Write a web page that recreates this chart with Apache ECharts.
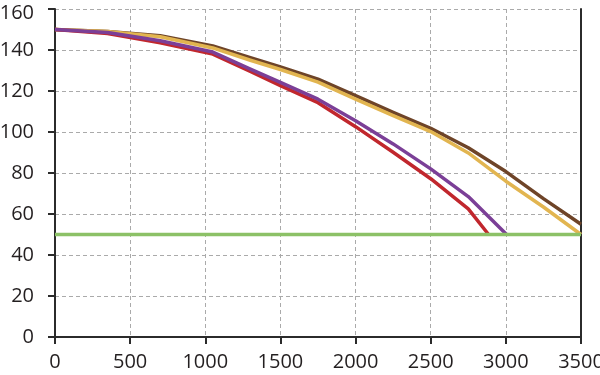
<!DOCTYPE html>
<html>
<head>
<meta charset="utf-8">
<script src="https://cdn.jsdelivr.net/npm/echarts@6/dist/echarts.min.js"></script>
<style>html,body{margin:0;padding:0;background:#fff}#c{width:600px;height:375px}</style>
</head>
<body>
<div id="c"></div>
<script>
const xTicks = [0, 500, 1000, 1500, 2000, 2500, 3000, 3500];
const yTicks = [0, 20, 40, 60, 80, 100, 120, 140, 160];

const xBrown = [0, 350, 700, 1050, 1300, 1500, 1750, 2000, 2250, 2500, 2750, 3000, 3250, 3500];
const brown  = [150, 149, 147, 142, 136.3, 131.8, 125.8, 117.7, 109.6, 101.8, 92.3, 80.7, 67.5, 55];
const xGold  = [0, 350, 700, 1050, 1300, 1500, 1750, 2000, 2250, 2500, 2750, 3000, 3250, 3500];
const gold   = [150, 149, 146.5, 141, 135, 130.5, 124.3, 116, 108, 100.2, 89.8, 76, 63.4, 50];
const xPurple = [0, 350, 700, 1050, 1300, 1500, 1750, 2000, 2250, 2500, 2750, 3005];
const purple  = [150, 148.5, 144.5, 139, 130.7, 124.2, 116, 105.5, 94.2, 82, 68.5, 50];
const xRed = [0, 350, 700, 1050, 1300, 1500, 1750, 2000, 2250, 2500, 2750, 2885];
const red  = [150, 148, 143.5, 138, 129.5, 122.6, 114.3, 102.6, 90.1, 77.2, 62.5, 50];
const xGreen = [0, 3500];
const green  = [50, 50];

const pairs = (xs, ys) => xs.map((x, i) => [x, ys[i]]);
const FONT = '"Open Sans", "Noto Sans", sans-serif';
const TXT = '#231f20';

const chart = echarts.init(document.getElementById('c'), null, {renderer: 'canvas'});
const line = (name, xs, ys, color, z) => ({
  name, type: 'line', data: pairs(xs, ys), showSymbol: false, symbol: 'none',
  lineStyle: {color, width: 3.5, join: 'round', cap: 'butt'}, itemStyle: {color}, z, animation: false, silent: true
});
chart.setOption({
  animation: false,
  grid: {left: 55, right: 19, top: 9, bottom: 38, containLabel: false, outerBoundsMode: 'none'},
  xAxis: {
    type: 'value', min: xTicks[0], max: xTicks[xTicks.length - 1], interval: 500,
    axisLine: {show: true, onZero: false, lineStyle: {color: '#2b2b2b', width: 2}},
    axisTick: {show: true, length: 7, lineStyle: {color: '#2b2b2b', width: 2}},
    axisLabel: {color: TXT, fontFamily: FONT, fontSize: 20, margin: 15, formatter: v => String(v)},
    splitLine: {show: true, lineStyle: {color: '#aaaaaa', width: 1, type: [4, 3]}}
  },
  yAxis: [{
    type: 'value', min: yTicks[0], max: yTicks[yTicks.length - 1], interval: 20,
    axisLine: {show: true, lineStyle: {color: '#2b2b2b', width: 2}},
    axisTick: {show: true, length: 7, lineStyle: {color: '#2b2b2b', width: 2}},
    axisLabel: {
      color: TXT, fontFamily: FONT, fontSize: 20, margin: 21,
      formatter: v => v === 160 ? '{t|160}' : String(v),
      rich: {t: {color: TXT, fontFamily: FONT, fontSize: 20, padding: [8, 0, 0, 0]}}
    },
    splitLine: {show: true, lineStyle: {color: '#aaaaaa', width: 1, type: [4, 3]}}
  }, {
    type: 'value', position: 'right', min: 0, max: 160, interval: 20,
    axisLine: {show: true, lineStyle: {color: '#2b2b2b', width: 2}},
    axisTick: {show: false}, axisLabel: {show: false}, splitLine: {show: false}
  }],
  series: [
    line('brown', xBrown, brown, '#6e4428', 2),
    line('gold', xGold, gold, '#e2b550', 3),
    line('red', xRed, red, '#c1272d', 4),
    line('purple', xPurple, purple, '#7b3f97', 5),
    line('green', xGreen, green, '#8cc167', 6)
  ]
});
</script>
</body>
</html>
